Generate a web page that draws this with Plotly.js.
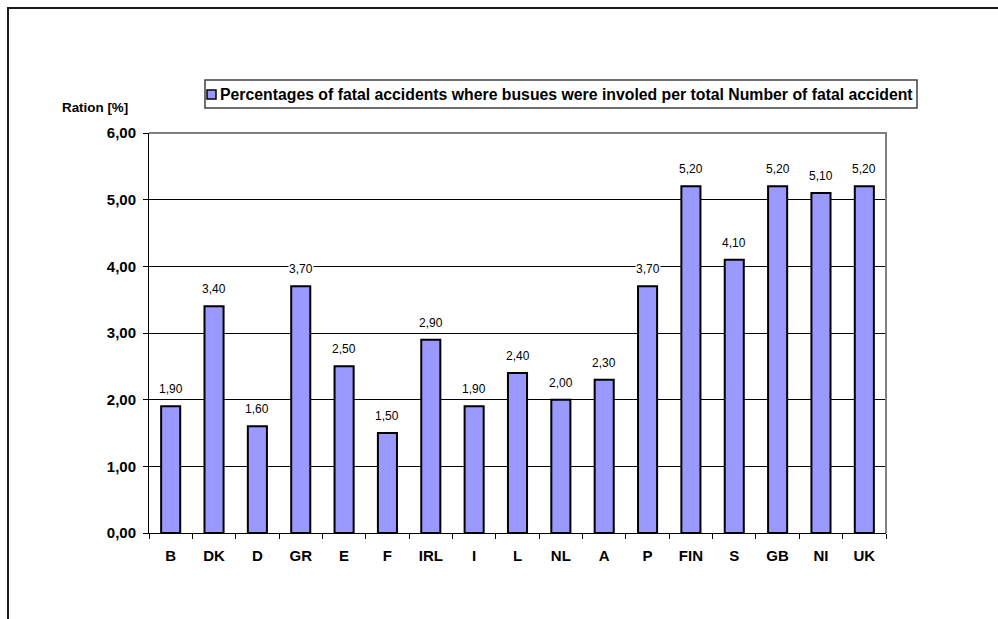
<!DOCTYPE html>
<html>
<head>
<meta charset="utf-8">
<script src="https://cdn.plot.ly/plotly-3.0.1.min.js"></script>
<style>
  html, body { margin: 0; padding: 0; background: #fff; }
  #chart { width: 998px; height: 619px; }
</style>
</head>
<body>
<div id="chart"></div>
<script>
// Country codes along the x axis
const countries = ['B', 'DK', 'D', 'GR', 'E', 'F', 'IRL', 'I', 'L', 'NL', 'A', 'P', 'FIN', 'S', 'GB', 'NI', 'UK'];
// Share of fatal accidents involving buses, in percent
const busShare = [1.9, 3.4, 1.6, 3.7, 2.5, 1.5, 2.9, 1.9, 2.4, 2.0, 2.3, 3.7, 5.2, 4.1, 5.2, 5.1, 5.2];
const seriesName = 'Percentages of fatal accidents where busues were involed per total Number of fatal accident';
const yTitle = 'Ration [%]';

const FONT = 'Arial, "Liberation Sans", sans-serif';
const BAR_COLOR = '#9999FF';

// Value labels use a decimal comma, two decimals
const fmt = v => v.toFixed(2).replace('.', ',');

const trace = {
  type: 'bar',
  x: countries,
  y: busShare,
  name: seriesName,
  marker: { color: BAR_COLOR, line: { color: '#000', width: 2 } },
  hoverinfo: 'x+y'
};

// plot area: x 149..886, y 133..533 (pixels)
const L = 149, R = 886, T = 133, B = 533;
const px = x => (x - L) / (R - L);
const py = y => (B - y) / (B - T);

// value label floating above each bar, on a white patch over the gridlines
const valueLabels = countries.map((c, i) => ({
  x: c, y: busShare[i], xref: 'x', yref: 'y',
  text: fmt(busShare[i]),
  showarrow: false, xanchor: 'center', yanchor: 'middle', yshift: 17,
  bgcolor: '#fff', borderpad: 0,
  font: { family: FONT, size: 12, color: '#000' }
}));

const layout = {
  width: 998,
  height: 619,
  margin: { l: L, r: 998 - R, t: T, b: 619 - B, pad: 0 },
  paper_bgcolor: '#fff',
  plot_bgcolor: '#fff',
  showlegend: false,
  separators: ',.',
  bargap: 0.56,
  font: { family: FONT, color: '#000' },
  xaxis: {
    type: 'category',
    tickson: 'boundaries',
    ticks: 'outside',
    ticklen: 5,
    tickcolor: '#000',
    showline: true,
    linecolor: '#000',
    linewidth: 1,
    showgrid: false,
    ticklabelstandoff: 9,
    tickfont: { family: FONT, size: 15, color: '#000', weight: 'bold' }
  },
  yaxis: {
    range: [0, 6],
    dtick: 1,
    tickformat: '.2f',
    ticks: 'outside',
    ticklen: 5,
    tickcolor: '#000',
    showline: true,
    linecolor: '#000',
    linewidth: 1,
    showgrid: true,
    gridcolor: '#000',
    gridwidth: 1,
    zeroline: false,
    ticklabelstandoff: 4,
    tickfont: { family: FONT, size: 15, color: '#000', weight: 'bold' }
  },
  shapes: [
    // outer chart frame (left and top edges)
    {
      type: 'path', xref: 'paper', yref: 'paper',
      path: `M ${px(8)},${py(640)} L ${px(8)},${py(8)} L ${px(1010)},${py(8)}`,
      line: { color: '#1a1a1a', width: 2 }
    },
    // plot-area border, top and right
    {
      type: 'path', xref: 'paper', yref: 'paper', layer: 'above',
      path: `M ${px(L)},1 L 1,1 L 1,0`,
      line: { color: '#808080', width: 2 }
    },
    // legend box
    {
      type: 'rect', xref: 'paper', yref: 'paper',
      x0: px(205), x1: px(917), y0: py(108), y1: py(80),
      line: { color: '#404040', width: 1.5 }, fillcolor: '#fff'
    },
    // legend swatch
    {
      type: 'rect', xref: 'paper', yref: 'paper',
      x0: px(207), x1: px(216), y0: py(99), y1: py(90),
      line: { color: '#000', width: 1.5 }, fillcolor: BAR_COLOR
    }
  ],
  annotations: [
    {
      xref: 'paper', yref: 'paper', x: px(218), y: py(94.5),
      xanchor: 'left', yanchor: 'middle', showarrow: false,
      text: '<b>' + seriesName + '</b>',
      font: { family: FONT, size: 15.8, color: '#000' }
    },
    {
      xref: 'paper', yref: 'paper', x: px(60), y: py(107),
      xanchor: 'left', yanchor: 'middle', showarrow: false,
      text: '<b>' + yTitle + '</b>',
      font: { family: FONT, size: 13.4, color: '#000' }
    }
  ].concat(valueLabels)
};

Plotly.newPlot('chart', [trace], layout, { displayModeBar: false, staticPlot: true });
</script>
</body>
</html>
